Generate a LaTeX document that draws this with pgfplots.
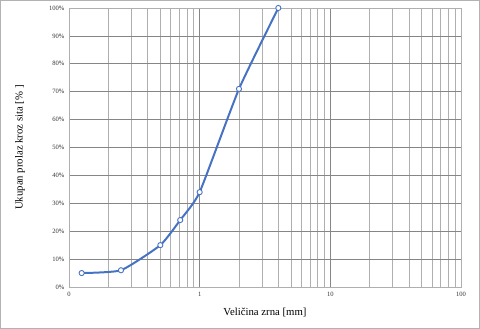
\documentclass[border=0pt]{standalone}
\usepackage{pgfplots}
\pgfplotsset{compat=1.18}
\usepackage{fontspec}
\setmainfont{Liberation Serif}
\definecolor{lineblue}{RGB}{70,114,196}
\definecolor{majgrid}{RGB}{134,134,134}
\definecolor{mingrid}{RGB}{175,175,175}
\begin{document}
\begin{tikzpicture}[x=1bp,y=1bp]
\begin{axis}[
  at={(0,0)}, anchor=south west,
  scale only axis,
  width=392bp, height=279bp,
  xmode=log, log basis x=10,
  xmin=0.1, xmax=100,
  ymin=0, ymax=100,
  xtick={0.1,1,10,100},
  xticklabels={0,1,10,100},
  minor xtick={0.2,0.3,0.4,0.5,0.6,0.7,0.8,0.9,2,3,4,5,6,7,8,9,20,30,40,50,60,70,80,90},
  ytick={0,10,...,100},
  yticklabel={\pgfmathprintnumber{\tick}\%},
  /pgf/number format/assume math mode=true,
  tick label style={font=\fontsize{6.6}{7}\selectfont, text=black!80},
  xmajorgrids, xminorgrids, ymajorgrids,
  major grid style={majgrid, line width=0.7pt},
  minor grid style={mingrid, line width=0.7pt},
  axis line style={mingrid, line width=0.7pt},
  tick style={draw=none},
  xlabel={Veličina zrna [mm]},
  ylabel={Ukupan prolaz kroz sita [\% ]},
  label style={font=\fontsize{10.8}{12}\selectfont},
  xlabel style={at={(axis description cs:0.5,-0.093)}, anchor=center},
  ylabel style={at={(axis description cs:-0.125,0.5)}, anchor=center},
  yticklabel style={xshift=-1bp},
  xticklabel style={yshift=-2bp},
]
\addplot[color=lineblue, line width=2pt, smooth, tension=0.3,
  mark=*, mark size=2.6pt, mark options={fill=white, draw=lineblue, line width=0.9pt}]
  coordinates {
  (0.125,5) (0.25,6) (0.5,15) (0.71,24) (1,34) (2,71) (4,100)
  };
\end{axis}
\draw[black!30, line width=0.8pt] (-68.6bp,-41.6bp) rectangle (410.6bp,286.6bp);
\end{tikzpicture}
\end{document}
